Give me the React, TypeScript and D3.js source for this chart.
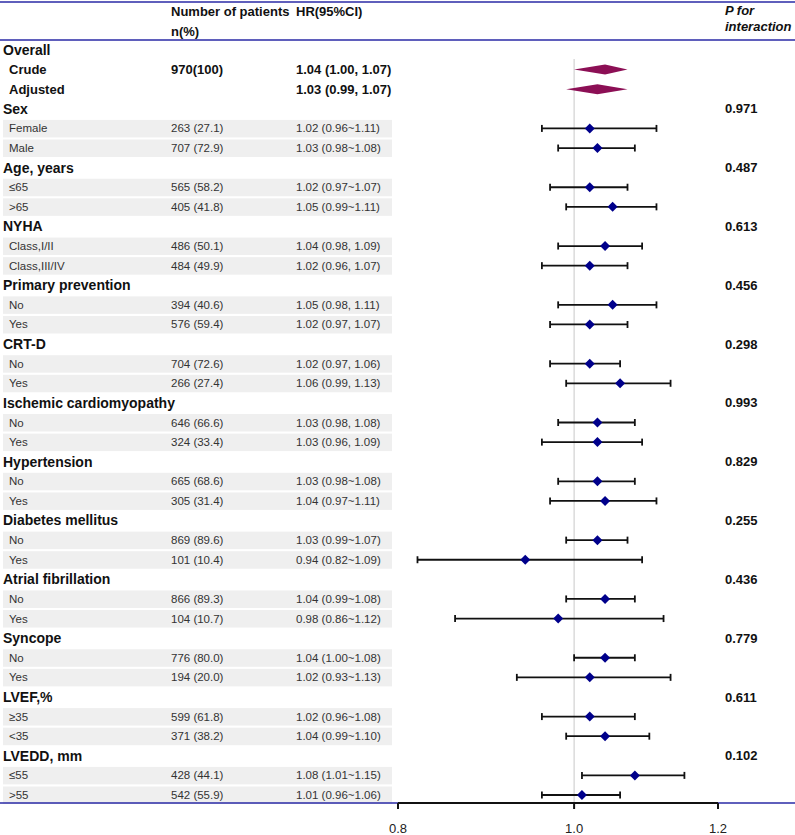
import { useEffect } from 'react';
import * as d3 from 'd3';

// overall estimates
const overallLabels = ['Crude', 'Adjusted'];
const overallN = ['970(100)', ''];
const overallHR = [1.04, 1.03];
const overallLo = [1.0, 0.99];
const overallHi = [1.07, 1.07];

// subgroups
const groups = [
  'Sex', 'Age, years', 'NYHA', 'Primary prevention', 'CRT-D',
  'Ischemic cardiomyopathy', 'Hypertension', 'Diabetes mellitus',
  'Atrial fibrillation', 'Syncope', 'LVEF,%', 'LVEDD, mm',
];
const pValues = ['0.971', '0.487', '0.613', '0.456', '0.298', '0.993', '0.829', '0.255', '0.436', '0.779', '0.611', '0.102'];
const subLabels = [
  ['Female', 'Male'], ['≤65', '>65'], ['Class,I/II', 'Class,III/IV'], ['No', 'Yes'], ['No', 'Yes'],
  ['No', 'Yes'], ['No', 'Yes'], ['No', 'Yes'], ['No', 'Yes'], ['No', 'Yes'], ['≥35', '<35'], ['≤55', '>55'],
];
const nPct = [
  ['263 (27.1)', '707 (72.9)'], ['565 (58.2)', '405 (41.8)'], ['486 (50.1)', '484 (49.9)'],
  ['394 (40.6)', '576 (59.4)'], ['704 (72.6)', '266 (27.4)'], ['646 (66.6)', '324 (33.4)'],
  ['665 (68.6)', '305 (31.4)'], ['869 (89.6)', '101 (10.4)'], ['866 (89.3)', '104 (10.7)'],
  ['776 (80.0)', '194 (20.0)'], ['599 (61.8)', '371 (38.2)'], ['428 (44.1)', '542 (55.9)'],
];
const hr = [[1.02, 1.03], [1.02, 1.05], [1.04, 1.02], [1.05, 1.02], [1.02, 1.06], [1.03, 1.03], [1.03, 1.04], [1.03, 0.94], [1.04, 0.98], [1.04, 1.02], [1.02, 1.04], [1.08, 1.01]];
const lower = [[0.96, 0.98], [0.97, 0.99], [0.98, 0.96], [0.98, 0.97], [0.97, 0.99], [0.98, 0.96], [0.98, 0.97], [0.99, 0.82], [0.99, 0.86], [1.0, 0.93], [0.96, 0.99], [1.01, 0.96]];
const upper = [[1.11, 1.08], [1.07, 1.11], [1.09, 1.07], [1.11, 1.07], [1.06, 1.13], [1.08, 1.09], [1.08, 1.11], [1.07, 1.09], [1.08, 1.12], [1.08, 1.13], [1.08, 1.10], [1.15, 1.06]];
const ciSep = ['~', '~', ', ', ', ', ', ', ', ', '~', '~', '~', '~', '~', '~'];

const xTicks = [0.8, 1.0, 1.2];

const W = 795;
const H = 835;
const FONT = '"Liberation Sans", Arial, sans-serif';
const BLUE = '#2a2aa6';

type Row = {
  kind: 'head' | 'overall' | 'sub';
  label: string;
  n?: string;
  hrText?: string;
  p?: string;
  est?: number;
  lo?: number;
  hi?: number;
};

const fmt = d3.format('.2f');

export default function App() {
  useEffect(() => {
    document.body.style.margin = '0';
  }, []);

  const rows: Row[] = [{ kind: 'head', label: 'Overall' }];
  overallLabels.forEach((l, i) =>
    rows.push({
      kind: 'overall', label: l, n: overallN[i],
      hrText: `${fmt(overallHR[i])} (${fmt(overallLo[i])}, ${fmt(overallHi[i])})`,
      est: overallHR[i], lo: overallLo[i], hi: overallHi[i],
    })
  );
  groups.forEach((g, gi) => {
    rows.push({ kind: 'head', label: g, p: pValues[gi] });
    subLabels[gi].forEach((s, j) =>
      rows.push({
        kind: 'sub', label: s, n: nPct[gi][j],
        hrText: `${fmt(hr[gi][j])} (${fmt(lower[gi][j])}${ciSep[gi]}${fmt(upper[gi][j])})`,
        est: hr[gi][j], lo: lower[gi][j], hi: upper[gi][j],
      })
    );
  });

  const x = d3.scaleLog().domain([0.8, 1.2]).range([398, 718]);
  const y = d3.scalePoint<number>().domain(rows.map((_, i) => i)).range([50, 795]);
  const axisY = 803;

  const diamond = (cx: number, cy: number, hw: number, hh: number) =>
    `M${cx - hw},${cy}L${cx},${cy - hh}L${cx + hw},${cy}L${cx},${cy + hh}Z`;

  return (
    <svg width={W} height={H} style={{ display: 'block', fontFamily: FONT }}>
      <rect width={W} height={H} fill="#fff" />

      {/* header */}
      <line x1={0} x2={W} y1={2} y2={2} stroke={BLUE} strokeWidth={1.5} />
      <line x1={0} x2={W} y1={40} y2={40} stroke={BLUE} strokeWidth={1.5} />
      <g fontSize={13} fontWeight="bold" fill="#111">
        <text x={171} y={16}>Number of patients</text>
        <text x={171} y={36}>n(%)</text>
        <text x={296} y={16}>HR(95%CI)</text>
        <text x={725} y={15} fontStyle="italic">P for</text>
        <text x={725} y={31} fontStyle="italic">interaction</text>
      </g>

      {/* row bands */}
      {rows.map((r, i) =>
        r.kind === 'sub' ? (
          <rect key={'b' + i} x={3} width={389} y={(y(i) as number) - 8.5} height={17.5} fill="#efefef" />
        ) : null
      )}

      {/* reference line */}
      <line x1={x(1)} x2={x(1)} y1={59} y2={axisY} stroke="#c8c8c8" strokeWidth={1} />

      {/* text */}
      {rows.map((r, i) => {
        const cy = y(i) as number;
        if (r.kind === 'head') {
          return (
            <g key={'t' + i} fontWeight="bold" fill="#111">
              <text x={3} y={cy} dy="0.35em" fontSize={14}>{r.label}</text>
              {r.p && <text x={725} y={cy} dy="0.35em" fontSize={13}>{r.p}</text>}
            </g>
          );
        }
        const bold = r.kind === 'overall';
        return (
          <g key={'t' + i} fontWeight={bold ? 'bold' : 'normal'} fontSize={bold ? 13 : 11.5} fill={bold ? '#111' : '#333'}>
            <text x={9} y={cy} dy="0.35em">{r.label}</text>
            <text x={171} y={cy} dy="0.35em">{r.n}</text>
            <text x={296} y={cy} dy="0.35em">{r.hrText}</text>
          </g>
        );
      })}

      {/* marks */}
      {rows.map((r, i) => {
        const cy = y(i) as number;
        if (r.kind === 'overall') {
          const x0 = x(r.lo!), x1 = x(r.hi!), xc = x(r.est!);
          return (
            <path key={'m' + i}
              d={`M${x0},${cy}L${xc},${cy - 5}L${x1},${cy}L${xc},${cy + 5}Z`}
              fill="#8c0f55" />
          );
        }
        if (r.kind === 'sub') {
          const x0 = x(r.lo!), x1 = x(r.hi!), xc = x(r.est!);
          return (
            <g key={'m' + i} stroke="#111" strokeWidth={1.8}>
              <line x1={x0} x2={x1} y1={cy} y2={cy} />
              <line x1={x0} x2={x0} y1={cy - 3.5} y2={cy + 3.5} />
              <line x1={x1} x2={x1} y1={cy - 3.5} y2={cy + 3.5} />
              <path d={diamond(xc, cy, 5, 5)} fill="#00008b" stroke="none" />
            </g>
          );
        }
        return null;
      })}

      {/* axis */}
      <line x1={0} x2={W} y1={axisY} y2={axisY} stroke={BLUE} strokeWidth={1.5} />
      <line x1={x(0.8)} x2={x(1.2)} y1={axisY} y2={axisY} stroke="#111" strokeWidth={2} />
      {xTicks.map((t) => (
        <g key={t}>
          <line x1={x(t)} x2={x(t)} y1={axisY} y2={axisY + 6} stroke="#111" strokeWidth={2} />
          <text x={x(t)} y={833} textAnchor="middle" fontSize={13} fill="#222">{d3.format('.1f')(t)}</text>
        </g>
      ))}
    </svg>
  );
}
